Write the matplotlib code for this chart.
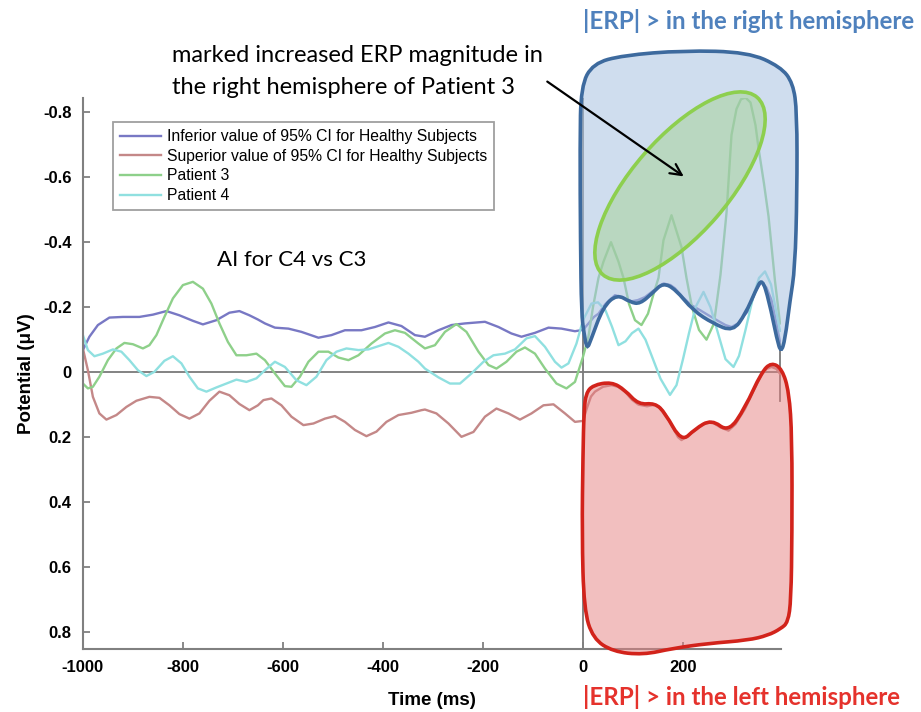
import matplotlib.pyplot as plt
import numpy as np
from matplotlib.path import Path
from matplotlib.patches import PathPatch, Ellipse, FancyArrowPatch

# --- data (time in ms, potential in uV; negative is plotted up)
t_inf = [-1000, -987, -970, -947, -920, -887, -860, -833, -807, -780, -760, -733, -707,
         -687, -667, -650, -636, -616, -589, -563, -529, -503, -476, -443, -416, -389,
         -363, -336, -316, -289, -263, -236, -196, -169, -143, -123, -96, -69, -43, -16,
         0, 11, 22, 31, 45, 64, 80, 97, 110, 124, 140, 161, 175, 184, 200, 217, 235, 251,
         270, 285, 297, 310, 320, 331, 345, 357, 367, 377, 387, 394]
v_inf = [-0.068, -0.109, -0.145, -0.168, -0.17, -0.17, -0.177, -0.188, -0.175, -0.158,
         -0.147, -0.16, -0.183, -0.188, -0.175, -0.162, -0.15, -0.137, -0.134, -0.124,
         -0.106, -0.114, -0.129, -0.129, -0.139, -0.153, -0.142, -0.114, -0.109, -0.129,
         -0.145, -0.15, -0.155, -0.139, -0.119, -0.109, -0.121, -0.137, -0.134, -0.126,
         -0.13, -0.15, -0.17, -0.18, -0.21, -0.237, -0.23, -0.218, -0.222, -0.231, -0.25,
         -0.273, -0.268, -0.258, -0.23, -0.206, -0.19, -0.175, -0.158, -0.145, -0.139,
         -0.15, -0.17, -0.19, -0.25, -0.278, -0.26, -0.222, -0.15, -0.093]

t_sup = [-1000, -990, -980, -967, -953, -933, -913, -893, -867, -847, -827, -807, -787,
         -767, -747, -727, -707, -687, -667, -650, -639, -623, -603, -583, -559, -539,
         -516, -496, -476, -456, -433, -413, -393, -369, -343, -323, -316, -293, -269,
         -243, -219, -196, -173, -149, -126, -103, -79, -59, -36, -16, 0, 8, 16, 24, 40,
         57, 70, 84, 98, 111, 128, 144, 155, 164, 178, 190, 197, 210, 224, 240, 257, 275,
         291, 305, 324, 340, 357, 367, 377, 387, 394]
v_sup = [-0.073, -0.006, 0.076, 0.127, 0.146, 0.132, 0.107, 0.088, 0.076, 0.079, 0.102,
         0.129, 0.143, 0.127, 0.088, 0.06, 0.071, 0.098, 0.117, 0.102, 0.086, 0.081,
         0.102, 0.137, 0.163, 0.158, 0.143, 0.135, 0.153, 0.178, 0.197, 0.183, 0.153,
         0.132, 0.125, 0.117, 0.115, 0.127, 0.158, 0.199, 0.184, 0.137, 0.112, 0.127,
         0.146, 0.127, 0.102, 0.099, 0.127, 0.153, 0.15, 0.11, 0.075, 0.06, 0.045, 0.04,
         0.045, 0.06, 0.085, 0.10, 0.105, 0.10, 0.11, 0.127, 0.165, 0.20, 0.209, 0.195,
         0.18, 0.16, 0.153, 0.17, 0.18, 0.16, 0.113, 0.06, 0.009, -0.01, -0.016, -0.01,
         0.005]

t_p3 = [-1000, -990, -980, -967, -950, -933, -917, -900, -880, -867, -853, -837, -820,
        -800, -780, -760, -743, -727, -710, -693, -673, -653, -636, -616, -596, -583,
        -566, -549, -529, -509, -489, -469, -449, -423, -396, -376, -356, -329, -316,
        -296, -276, -253, -233, -209, -189, -173, -153, -133, -116, -96, -76, -53, -33,
        -16, 0, 11, 20, 31, 41, 56, 71, 81, 92, 104, 117, 130, 141, 151, 161, 177, 197,
        207, 218, 232, 247, 262, 275, 287, 297, 307, 316, 325, 335, 345, 351, 362, 371,
        384, 394]
v_p3 = [0.035, 0.05, 0.045, 0.014, -0.037, -0.073, -0.09, -0.086, -0.073, -0.083,
        -0.114, -0.17, -0.227, -0.268, -0.278, -0.257, -0.211, -0.15, -0.093, -0.052,
        -0.052, -0.057, -0.037, 0.004, 0.043, 0.045, 0.014, -0.032, -0.063, -0.063,
        -0.045, -0.037, -0.052, -0.088, -0.119, -0.129, -0.121, -0.088, -0.073, -0.083,
        -0.124, -0.148, -0.124, -0.063, -0.022, -0.011, -0.032, -0.063, -0.076, -0.057,
        -0.011, 0.035, 0.05, 0.03, -0.047, -0.11, -0.20, -0.29, -0.34, -0.40, -0.34,
        -0.29, -0.21, -0.16, -0.145, -0.18, -0.24, -0.29, -0.406, -0.483, -0.385, -0.29,
        -0.20, -0.13, -0.10, -0.15, -0.30, -0.49, -0.73, -0.81, -0.84, -0.845, -0.83,
        -0.76, -0.69, -0.58, -0.48, -0.28, -0.15]

t_p4 = [-1000, -990, -977, -960, -940, -923, -907, -890, -873, -857, -837, -820, -803,
        -787, -770, -753, -733, -713, -693, -673, -653, -636, -616, -596, -573, -553,
        -533, -513, -493, -473, -449, -429, -409, -389, -369, -349, -329, -316, -289,
        -266, -246, -223, -199, -179, -156, -136, -113, -96, -76, -56, -43, -29, -13, 0,
        17, 30, 45, 58, 71, 85, 98, 111, 125, 140, 155, 174, 187, 200, 212, 225, 241,
        255, 270, 285, 301, 312, 325, 340, 352, 364, 376, 386, 394]
v_p4 = [-0.114, -0.068, -0.049, -0.057, -0.07, -0.063, -0.037, -0.006, 0.012, -0.001,
        -0.035, -0.049, -0.027, 0.014, 0.05, 0.06, 0.047, 0.035, 0.023, 0.03, 0.019,
        -0.006, -0.032, -0.016, 0.025, 0.04, 0.014, -0.037, -0.063, -0.073, -0.068,
        -0.07, -0.08, -0.09, -0.078, -0.057, -0.032, -0.011, 0.016, 0.035, 0.035, 0.004,
        -0.032, -0.052, -0.057, -0.07, -0.104, -0.111, -0.078, -0.032, -0.014, -0.027,
        -0.088, -0.16, -0.211, -0.215, -0.19, -0.14, -0.083, -0.095, -0.12, -0.134,
        -0.10, -0.04, 0.02, 0.07, 0.04, -0.04, -0.12, -0.20, -0.247, -0.20, -0.12, -0.04,
        -0.016, -0.05, -0.13, -0.23, -0.29, -0.31, -0.27, -0.19, -0.127]

labels = ['Inferior value of 95% CI for Healthy Subjects',
          'Superior value of 95% CI for Healthy Subjects',
          'Patient 3', 'Patient 4']
x_ticks = [-1000, -800, -600, -400, -200, 0, 200]
y_ticks = [-0.8, -0.6, -0.4, -0.2, 0, 0.2, 0.4, 0.6, 0.8]
y_ticklabels = ['-0.8', '-0.6', '-0.4', '-0.2', '0', '0.2', '0.4', '0.6', '0.8']

# hand drawn outlines (control points in data units)
blue_blob = [(2, -0.12), (8, -0.07), (16, -0.10), (40, -0.20), (68, -0.24), (95, -0.215),
             (114, -0.21), (140, -0.245), (160, -0.275), (185, -0.255), (220, -0.19),
             (260, -0.15), (300, -0.125), (325, -0.18), (345, -0.25), (358, -0.29),
             (372, -0.22), (388, -0.10), (396, -0.06), (404, -0.10), (414, -0.22),
             (424, -0.32), (428, -0.55), (428, -0.80), (420, -0.89), (395, -0.94),
             (330, -0.985), (200, -0.99), (80, -0.975), (20, -0.95), (-4, -0.88),
             (-6, -0.70), (-5, -0.40), (-3, -0.18)]
red_blob = [(0, 0.25), (2, 0.12), (6, 0.065), (20, 0.04), (57, 0.03), (84, 0.055),
            (111, 0.10), (144, 0.095), (164, 0.125), (197, 0.215), (224, 0.175),
            (257, 0.145), (291, 0.185), (324, 0.11), (357, 0.0), (377, -0.03),
            (398, -0.01), (412, 0.06), (418, 0.2), (418, 0.5), (416, 0.70), (410, 0.77),
            (395, 0.79), (370, 0.81), (330, 0.825), (250, 0.835), (180, 0.85),
            (120, 0.87), (60, 0.86), (20, 0.82), (2, 0.73), (-2, 0.5)]


def smooth_outline(pts):
    pts = np.asarray(pts, dtype=float)
    mids = (pts + np.roll(pts, -1, axis=0)) / 2
    verts = [mids[-1]]
    codes = [Path.MOVETO]
    for i in range(len(pts)):
        verts += [pts[i], mids[i]]
        codes += [Path.CURVE3, Path.CURVE3]
    return Path(verts, codes)


plt.rcParams['font.family'] = ['Liberation Sans', 'DejaVu Sans']

fig = plt.figure(figsize=(9.21, 7.12), dpi=100)
ax = fig.add_axes([0.090, 0.0885, 0.758, 0.7735])

ax.axhline(0, color='#7a7a7a', lw=1.3, zorder=1)
ax.axvline(0, color='#7a7a7a', lw=1.3, zorder=1)
ax.plot([394, 394], [-0.09, 0.09], color='#7a7a7a', lw=1.3, zorder=1)

line_kw = dict(lw=1.7, zorder=2, solid_joinstyle='round')
ax.plot(t_inf, v_inf, color='#7878c4', label=labels[0], **line_kw)
ax.plot(t_sup, v_sup, color='#c48888', label=labels[1], **line_kw)
ax.plot(t_p3, v_p3, color='#8ed08a', label=labels[2], **line_kw)
ax.plot(t_p4, v_p4, color='#90e0e0', label=labels[3], **line_kw)

ax.add_patch(PathPatch(smooth_outline(blue_blob), facecolor='#a8c2e0', alpha=0.55,
                       edgecolor='none', clip_on=False, zorder=3))
ax.add_patch(PathPatch(smooth_outline(blue_blob), facecolor='none', edgecolor='#3d6a9e',
                       lw=2.6, clip_on=False, zorder=4))
ax.add_patch(PathPatch(smooth_outline(red_blob), facecolor='#e68080', alpha=0.5,
                       edgecolor='none', clip_on=False, zorder=3))
ax.add_patch(PathPatch(smooth_outline(red_blob), facecolor='none', edgecolor='#d2231b',
                       lw=2.6, clip_on=False, zorder=4))

ax.set_xlim(-1000, 396)
ax.set_ylim(0.852, -0.843)
ax.set_xticks(x_ticks)
ax.set_xticklabels([str(x) for x in x_ticks])
ax.set_yticks(y_ticks)
ax.set_yticklabels(y_ticklabels)
for s in ['top', 'right']:
    ax.spines[s].set_visible(False)
for s in ['left', 'bottom']:
    ax.spines[s].set_color('#808080')
    ax.spines[s].set_linewidth(1.5)
ax.tick_params(direction='in', length=5, width=1.3, color='#808080',
               labelsize=12, pad=8)
for lab in ax.get_xticklabels() + ax.get_yticklabels():
    lab.set_fontweight('bold')

ax.set_xlabel('Time (ms)', fontsize=13.5, fontweight='bold', labelpad=12)
ax.set_ylabel('Potential (μV)', fontsize=13.5, fontweight='bold', labelpad=6)

leg = ax.legend(loc='upper left', bbox_to_anchor=(113 / 921, 1 - 122 / 712),
                bbox_transform=fig.transFigure, fontsize=11.3, frameon=True,
                fancybox=False, edgecolor='#888888', handlelength=2.6,
                borderpad=0.45, labelspacing=0.3, handletextpad=0.4, borderaxespad=0)
leg.get_frame().set_linewidth(1.3)

# annotations
fig.add_artist(Ellipse((6.80, 5.26), width=2.35, height=0.96, angle=49,
                       transform=fig.dpi_scale_trans, facecolor='#9fd08a', alpha=0.45,
                       edgecolor='none', zorder=5))
fig.add_artist(Ellipse((6.80, 5.26), width=2.35, height=0.96, angle=49,
                       transform=fig.dpi_scale_trans, facecolor='none',
                       edgecolor='#8dcf4e', lw=2.6, zorder=6))
fig.add_artist(FancyArrowPatch((545 / 921, 1 - 80 / 712), (686 / 921, 1 - 178 / 712),
                               transform=fig.transFigure, arrowstyle='->',
                               mutation_scale=20, lw=1.6, color='black', zorder=7))

note_font = ['Lato', 'DejaVu Sans']
fig.text(172 / 921, 1 - 55 / 712, 'marked increased ERP magnitude in',
         fontsize=17, family=note_font, va='center', ha='left')
fig.text(172 / 921, 1 - 88 / 712, 'the right hemisphere of Patient 3',
         fontsize=17, family=note_font, va='center', ha='left')
fig.text(217 / 921, 1 - 260 / 712, 'AI for C4 vs C3',
         fontsize=16, family=note_font, va='center', ha='left')
fig.text(583 / 921, 1 - 21 / 712, '|ERP| > in the right hemisphere', color='#4f81bd',
         fontsize=17.4, fontweight='bold', family=note_font, va='center', ha='left')
fig.text(583 / 921, 1 - 697 / 712, '|ERP| > in the left hemisphere', color='#e5322c',
         fontsize=17.4, fontweight='bold', family=note_font, va='center', ha='left')

fig.savefig('out.png', dpi=100)
